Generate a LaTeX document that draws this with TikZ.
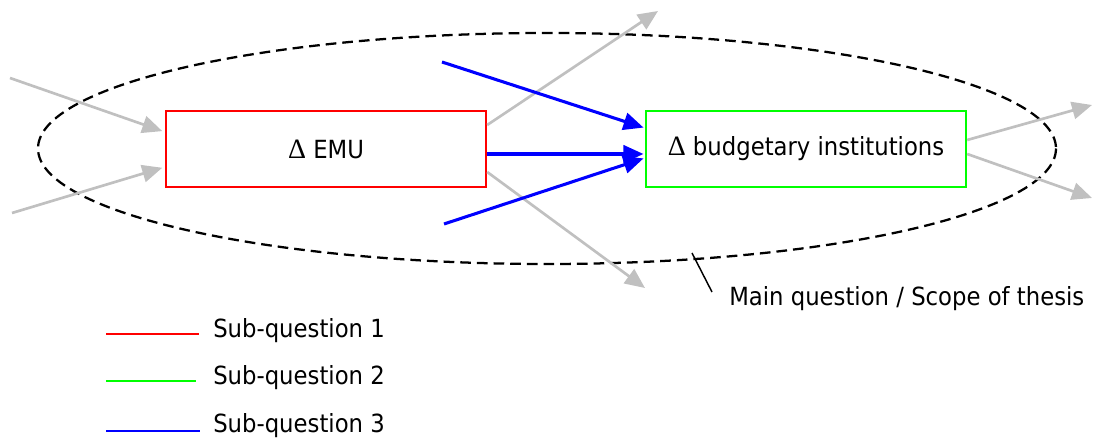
\documentclass[tikz,border=0pt]{standalone}
\usepackage{fontspec}
\setmainfont[FakeStretch=0.91]{DejaVu Sans}
\newfontfamily\deltafont{Liberation Serif}
\usetikzlibrary{arrows.meta}
\definecolor{flowgray}{RGB}{192,192,192}
\definecolor{sqred}{RGB}{255,0,0}
\definecolor{sqgreen}{RGB}{0,255,0}
\definecolor{sqblue}{RGB}{0,0,255}
\newcommand{\chg}{{\deltafont\fontsize{21}{22}\selectfont Δ}}
\begin{document}
\begin{tikzpicture}[x=0.75pt,y=-0.75pt,
  lbl/.style={font=\fontsize{18.75}{22}\selectfont},
  qbox/.style={draw, line width=1.8pt, minimum width=240pt, minimum height=57pt,
    inner sep=0pt, lbl},
  tip/.style={-{Triangle[length=15pt,width=13pt]}},
  flow/.style={tip, draw=flowgray, line width=2pt},
  link/.style={tip, draw=sqblue, line width=2.3pt},
  keyline/.style={line width=1.4pt},
  keytext/.style={lbl, anchor=base west, inner sep=0pt}]
\useasboundingbox (0,0) rectangle (1104,441);

% scope of the thesis
\draw[line width=1.7pt, dash pattern=on 8pt off 4.5pt] (547,148.5) ellipse [x radius=509, y radius=115.5];

% the two question boxes
\node[qbox, draw=sqred] (emu) at (326,149) {\chg\ EMU};
\node[qbox, draw=sqgreen] (bud) at (806,149) {\chg\ budgetary institutions};

% free ends of the outside influences
\coordinate (inA) at (10,78);
\coordinate (inB) at (12,213);
\coordinate (outA) at (658,11);
\coordinate (outB) at (645,288);
\coordinate (outC) at (1092,105);
\coordinate (outD) at (1092,198);
\coordinate (srcA) at (442,62);
\coordinate (srcB) at (444,224);

% grey influences
\draw[flow, shorten >=2pt] (inA) -- ([yshift=12.75pt]emu.west);
\draw[flow, shorten >=2pt] (inB) -- ([yshift=-13.5pt]emu.west);
\draw[flow] ([yshift=18pt]emu.east) -- (outA);
\draw[flow] ([yshift=-17.25pt]emu.east) -- (outB);
\draw[flow] ([yshift=6.75pt]bud.east) -- (outC);
\draw[flow] ([yshift=-3.75pt]bud.east) -- (outD);

% blue links into budgetary institutions
\draw[link, shorten >=1pt] (srcA) -- ([yshift=15.75pt]bud.west);
\draw[link, shorten >=1pt] ([yshift=-3.75pt]emu.east) -- ([yshift=-3.75pt]bud.west);
\draw[link, shorten >=1pt] (srcB) -- ([yshift=-6.75pt]bud.west);

% label of the scope
\coordinate (ptrA) at (692,253);
\coordinate (ptrB) at (712,292);
\draw[line width=1.1pt] (ptrA) -- (ptrB);
\node[keytext] (scopelbl) at (729,306) {Main question / Scope of thesis};

% legend
\coordinate (k1a) at (106,334); \coordinate (k1b) at (199,334);
\coordinate (k2a) at (106,381); \coordinate (k2b) at (196,381);
\coordinate (k3a) at (106,431); \coordinate (k3b) at (200,431);
\draw[keyline, draw=sqred] (k1a) -- (k1b);
\draw[keyline, draw=sqgreen] (k2a) -- (k2b);
\draw[keyline, draw=sqblue] (k3a) -- (k3b);
\node[keytext] (key1) at (213,338) {Sub-question 1};
\node[keytext] (key2) at (213,385) {Sub-question 2};
\node[keytext] (key3) at (213,433) {Sub-question 3};
\end{tikzpicture}
\end{document}
